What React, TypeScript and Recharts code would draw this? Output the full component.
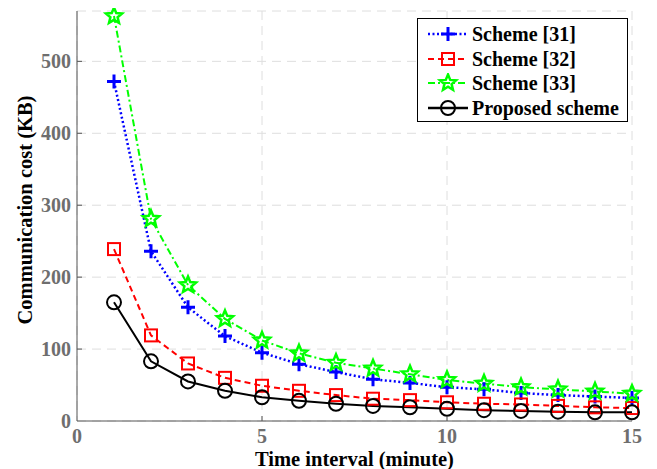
import React from "react";
import { LineChart, Line, XAxis, YAxis, CartesianGrid } from "recharts";

const intervals = [1, 2, 3, 4, 5, 6, 7, 8, 9, 10, 11, 12, 13, 14, 15];
const scheme31 = [472, 236, 158, 118, 95, 79, 68, 58, 53, 47, 44, 39, 36, 34, 32];
const scheme32 = [239, 119, 80, 60, 49, 42, 36, 31, 29, 26, 24, 23, 21, 19, 18];
const scheme33 = [563, 281, 189, 142, 112, 94, 81, 73, 65, 57, 52, 47, 44, 41, 38];
const proposed = [165, 83, 55, 42, 33, 28, 24, 21, 19, 17, 15, 14, 13, 12, 12];
const xTicks = [0, 5, 10, 15];
const yTicks = [0, 100, 200, 300, 400, 500];
const seriesNames = ["Scheme [31]", "Scheme [32]", "Scheme [33]", "Proposed scheme"];

const data = intervals.map((t, i) => ({
  t,
  s31: scheme31[i],
  s32: scheme32[i],
  s33: scheme33[i],
  prop: proposed[i],
}));

const FONT = "Liberation Serif";
const TICK_COLOR = "#6e6e6e";
const AXIS_COLOR = "#555";
const GREEN = "#00ff00";

const starPath = (cx: number, cy: number, R: number, r: number) => {
  let d = "";
  for (let k = 0; k < 10; k++) {
    const ang = -Math.PI / 2 + (k * Math.PI) / 5;
    const rad = k % 2 === 0 ? R : r;
    d += (k === 0 ? "M" : "L") + (cx + rad * Math.cos(ang)).toFixed(2) + "," + (cy + rad * Math.sin(ang)).toFixed(2);
  }
  return d + "Z";
};

const Plus = (cx: number, cy: number, key?: any) => (
  <path key={key} d={`M${cx - 7},${cy}H${cx + 7}M${cx},${cy - 7}V${cy + 7}`} stroke="#0000ff" strokeWidth={3} fill="none" />
);
const Square = (cx: number, cy: number, key?: any) => (
  <rect key={key} x={cx - 6} y={cy - 6} width={12} height={12} stroke="#ff0000" strokeWidth={2} fill="none" />
);
const Star = (cx: number, cy: number, key?: any) => (
  <path key={key} d={starPath(cx, cy, 8.5, 3.8)} stroke={GREEN} strokeWidth={2.5} strokeLinejoin="miter" fill="none" />
);
const Circ = (cx: number, cy: number, key?: any) => (
  <circle key={key} cx={cx} cy={cy} r={7} stroke="#000" strokeWidth={2} fill="none" />
);

const mk = (f: (cx: number, cy: number, key?: any) => React.ReactElement) => (props: any) => {
  const { cx, cy, index } = props;
  if (cx == null || cy == null) return <g key={index} />;
  return f(cx, cy, index);
};

const XTick = (props: any) => {
  const { x, y, payload } = props;
  return (
    <g>
      {payload.value !== 0 && payload.value !== 15 && (
        <line x1={x} y1={y} x2={x} y2={y - 5} stroke={AXIS_COLOR} />
      )}
      <text x={x} y={y + 22} textAnchor="middle" fill={TICK_COLOR} fontFamily={FONT} fontWeight="bold" fontSize={20}>
        {payload.value}
      </text>
    </g>
  );
};

const YTick = (props: any) => {
  const { x, y, payload } = props;
  return (
    <g>
      {payload.value !== 0 && <line x1={x} y1={y} x2={x + 5} y2={y} stroke={AXIS_COLOR} />}
      <text x={x - 6} y={y + 7} textAnchor="end" fill={TICK_COLOR} fontFamily={FONT} fontWeight="bold" fontSize={20}>
        {payload.value}
      </text>
    </g>
  );
};

const YLabel = (props: any) => {
  const vb = props.viewBox || { x: 0, y: 3, width: 69, height: 410 };
  const cx = 17;
  const cy = vb.y + vb.height / 2 - 6;
  return (
    <text
      x={cx}
      y={cy}
      transform={`rotate(-90, ${cx}, ${cy})`}
      textAnchor="middle"
      dominantBaseline="central"
      fill="#000"
      fontFamily={FONT}
      fontWeight="bold"
      fontSize={20.5}
    >
      Communication cost (KB)
    </text>
  );
};

const legendItems = [
  { name: seriesNames[0], color: "#0000ff", dash: "2 2.5", m: Plus, w: 2.5 },
  { name: seriesNames[1], color: "#ff0000", dash: "6 4", m: Square, w: 2 },
  { name: seriesNames[2], color: GREEN, dash: "7 3 2 3", m: Star, w: 2 },
  { name: seriesNames[3], color: "#000000", dash: undefined, m: Circ, w: 2.5 },
];

const LegendBox = () => (
  <div
    style={{
      position: "absolute",
      left: 409,
      top: 10,
      border: "1px solid #000",
      background: "#fff",
      width: 211,
      height: 104,
      boxSizing: "border-box",
      padding: "3px 0 0 8px",
    }}
  >
    {legendItems.map((it, i) => (
      <div key={i} style={{ display: "flex", alignItems: "center", height: 24.5 }}>
        <svg width={44} height={20} style={{ flex: "none" }}>
          <line x1={2} y1={10} x2={42} y2={10} stroke={it.color} strokeWidth={it.w} strokeDasharray={it.dash} />
          {it.m(22, 10)}
        </svg>
        <span style={{ fontFamily: FONT, fontWeight: "bold", fontSize: 20, color: "#000", marginLeft: 2, whiteSpace: "nowrap", lineHeight: "20px" }}>
          {it.name}
        </span>
      </div>
    ))}
  </div>
);

export default function App() {
  return (
    <div style={{ position: "relative", width: 641, height: 461, background: "#fff" }}>
      <LineChart width={641} height={461} data={data} margin={{ top: 3, right: 17, bottom: 0, left: 0 }}>
        <CartesianGrid stroke="#dedede" strokeDasharray="9 6" strokeWidth={1} />
        <XAxis
          dataKey="t"
          type="number"
          domain={[0, 15]}
          ticks={xTicks}
          height={48}
          tickSize={0}
          tickMargin={0}
          stroke={AXIS_COLOR}
          tick={<XTick />}
          label={{ value: "Time interval (minute)", position: "insideBottom", offset: 3, fill: "#000", fontFamily: FONT, fontWeight: "bold", fontSize: 20.5 }}
        />
        <XAxis xAxisId="top" orientation="top" type="number" domain={[0, 15]} ticks={xTicks} height={0} tick={false} tickLine={false} stroke={AXIS_COLOR} />
        <YAxis
          type="number"
          domain={[0, 570]}
          ticks={yTicks}
          width={69}
          tickSize={0}
          tickMargin={0}
          stroke={AXIS_COLOR}
          tick={<YTick />}
          label={<YLabel />}
        />
        <YAxis yAxisId="right" orientation="right" type="number" domain={[0, 570]} ticks={yTicks} width={0} tick={false} tickLine={false} stroke={AXIS_COLOR} />
        <Line name={seriesNames[0]} dataKey="s31" stroke="#0000ff" strokeWidth={2.5} strokeDasharray="2 2.5" dot={mk(Plus)} isAnimationActive={false} />
        <Line name={seriesNames[1]} dataKey="s32" stroke="#ff0000" strokeWidth={2} strokeDasharray="6 4" dot={mk(Square)} isAnimationActive={false} />
        <Line name={seriesNames[2]} dataKey="s33" stroke={GREEN} strokeWidth={2} strokeDasharray="7 3 2 3" dot={mk(Star)} isAnimationActive={false} />
        <Line name={seriesNames[3]} dataKey="prop" stroke="#000000" strokeWidth={2} dot={mk(Circ)} isAnimationActive={false} />
      </LineChart>
      <LegendBox />
    </div>
  );
}
